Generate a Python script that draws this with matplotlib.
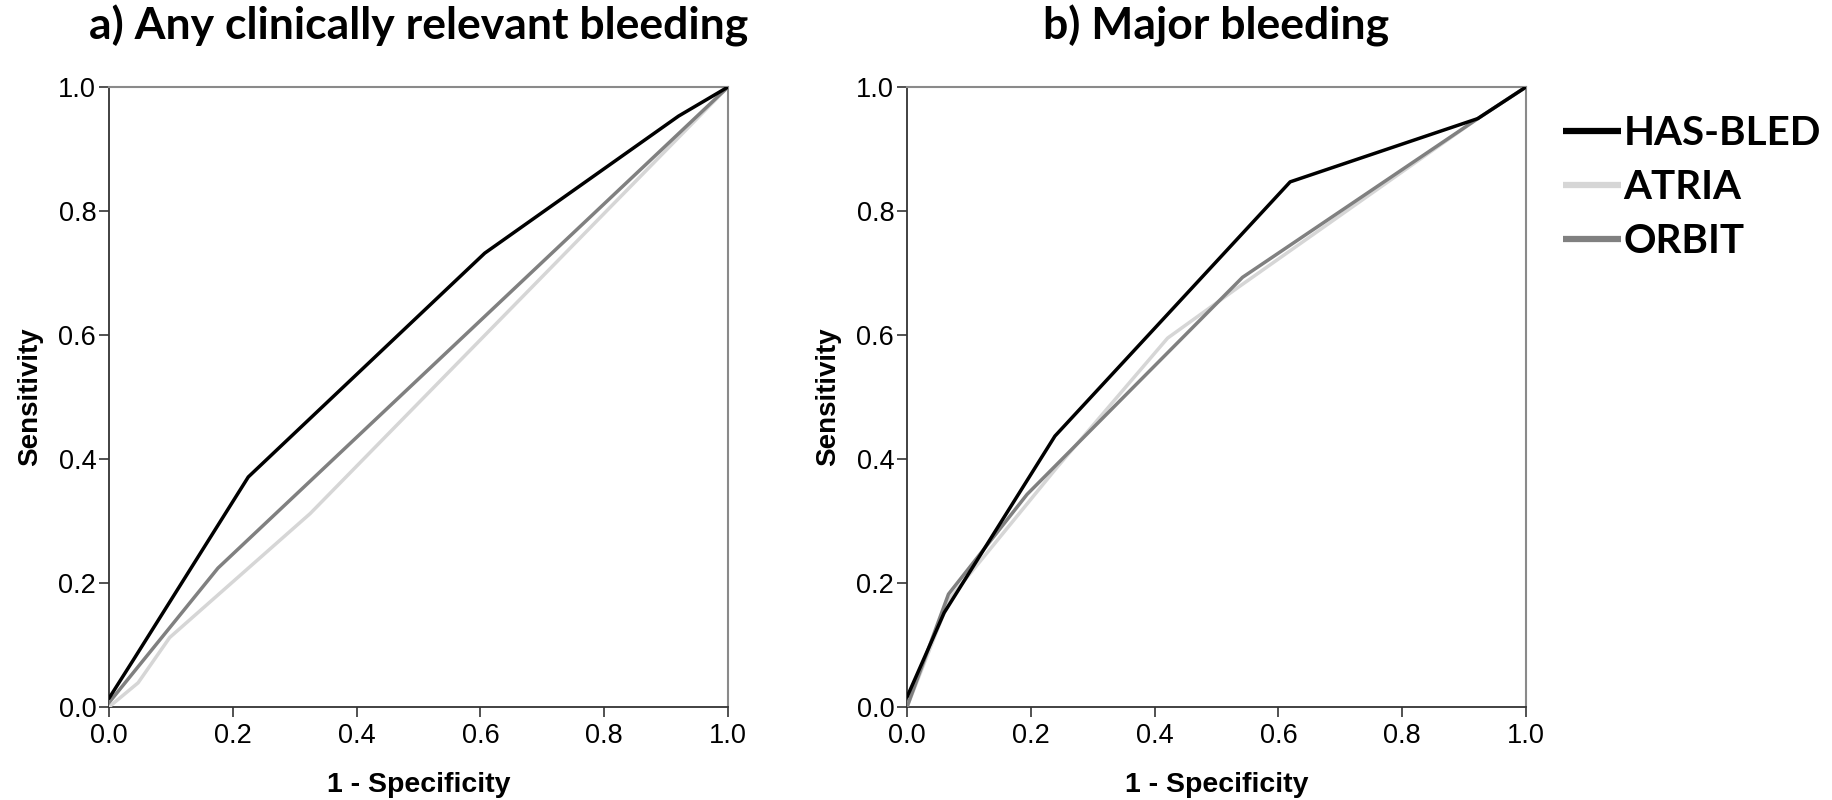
import matplotlib
matplotlib.use("Agg")
import matplotlib.pyplot as plt
from matplotlib.lines import Line2D

# ROC curves: (1 - specificity, sensitivity)
any_hasbled_x = [0.0, 0.04, 0.225, 0.607, 0.92, 1.0]
any_hasbled_y = [0.014, 0.077, 0.371, 0.732, 0.953, 1.0]
any_atria_x = [0.0, 0.047, 0.098, 0.325, 1.0]
any_atria_y = [0.0, 0.039, 0.112, 0.312, 1.0]
any_orbit_x = [0.0, 0.176, 1.0]
any_orbit_y = [0.007, 0.224, 1.0]

major_hasbled_x = [0.0, 0.06, 0.239, 0.619, 0.922, 1.0]
major_hasbled_y = [0.016, 0.152, 0.437, 0.847, 0.949, 1.0]
major_atria_x = [0.0, 0.069, 0.241, 0.421, 0.538, 0.922, 1.0]
major_atria_y = [0.0, 0.175, 0.385, 0.595, 0.679, 0.949, 1.0]
major_orbit_x = [0.0, 0.067, 0.194, 0.542, 0.922, 1.0]
major_orbit_y = [0.0, 0.182, 0.343, 0.693, 0.949, 1.0]

panel_titles = ["a) Any clinically relevant bleeding", "b) Major bleeding"]
series_names = ["HAS-BLED", "ATRIA", "ORBIT"]
series_colors = ["#000000", "#d6d6d6", "#808080"]
tick_values = [0.0, 0.2, 0.4, 0.6, 0.8, 1.0]
tick_labels = ["0.0", "0.2", "0.4", "0.6", "0.8", "1.0"]

panels = [
    [(any_hasbled_x, any_hasbled_y), (any_atria_x, any_atria_y), (any_orbit_x, any_orbit_y)],
    [(major_hasbled_x, major_hasbled_y), (major_atria_x, major_atria_y), (major_orbit_x, major_orbit_y)],
]

W, H = 1832, 800
fig = plt.figure(figsize=(W / 100, H / 100), dpi=100)

axes_px = [(109, 87, 728, 707), (907, 87, 1526, 707)]
title_font = ["Lato", "DejaVu Sans"]
tick_font = "Liberation Sans"

for (l, t, r, b), title, curves in zip(axes_px, panel_titles, panels):
    ax = fig.add_axes([l / W, 1 - b / H, (r - l) / W, (b - t) / H])
    # draw order: lightest first, darkest on top
    for idx in [1, 2, 0]:
        xs, ys = curves[idx]
        ax.plot(xs, ys, color=series_colors[idx], lw=2.5, solid_joinstyle="round",
                solid_capstyle="round", zorder=3 + (idx == 0))
    ax.set_xlim(0, 1)
    ax.set_ylim(0, 1)
    ax.set_xticks(tick_values)
    ax.set_xticklabels(tick_labels, family=tick_font, fontsize=19.5)
    ax.set_yticks(tick_values)
    ax.set_yticklabels(tick_labels, family=tick_font, fontsize=19.5)
    ax.tick_params(direction="out", length=7.2, width=1.2, color="#333333")
    ax.tick_params(axis="x", pad=4)
    ax.tick_params(axis="y", pad=2)
    ax.set_xlabel("1 - Specificity", family=tick_font, fontweight="bold", fontsize=20.5, labelpad=17)
    ax.set_ylabel("Sensitivity", family=tick_font, fontweight="bold", fontsize=20, labelpad=11)
    for side in ["left", "bottom"]:
        ax.spines[side].set_color("#333333")
        ax.spines[side].set_linewidth(1.3)
    for side in ["top", "right"]:
        ax.spines[side].set_color("#8a8a8a")
        ax.spines[side].set_linewidth(1.5)
    ax.set_title(title, family=title_font, fontweight="bold", fontsize=32, pad=34)

handles = [Line2D([0], [0], color=c, lw=4.5, solid_capstyle="butt") for c in series_colors]
fig.legend(handles, series_names, loc="upper left", bbox_to_anchor=(1555 / W, 1 - 107 / H),
           frameon=False, handlelength=1.45, handletextpad=0.05, labelspacing=0.42,
           borderaxespad=0, borderpad=0.2,
           prop={"family": title_font, "weight": "bold", "size": 29})

fig.savefig("out.png", dpi=100, facecolor="white")
